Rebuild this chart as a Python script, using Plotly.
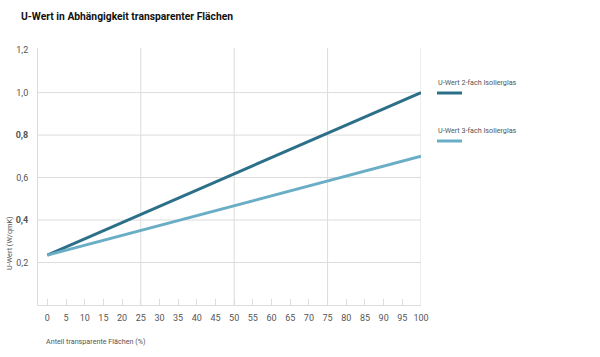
import plotly.graph_objects as go

x_vals = [0, 100]
series_names = ["U-Wert 2-fach Isolierglas", "U-Wert 3-fach Isolierglas"]
u_2fach = [0.235, 1.0]
u_3fach = [0.235, 0.70]
x_ticks = list(range(0, 101, 5))
y_ticks = [0.2, 0.4, 0.6, 0.8, 1.0, 1.2]
y_ticktext = ["0,2", "<b>0,4</b>", "0,6", "<b>0,8</b>", "1,0", "1,2"]
y_grid = [0.2, 0.4, 0.6, 0.8, 1.0]
x_grid = [25, 50, 75, 100]

colors = ["#2c6f88", "#6aaec6"]
FONT = "Roboto, Arial, sans-serif"

W, H = 600, 357
# plot area in window pixels: x 38..421, y 48..305
L, R, T, B = 38, 421, 48, 305
def px(xp):
    return (xp - L) / (R - L)
def py(yp):
    return (B - yp) / (B - T)

fig = go.Figure()
for name, vals, c in zip(series_names, [u_2fach, u_3fach], colors):
    fig.add_trace(go.Scatter(x=x_vals, y=vals, mode="lines", name=name,
                             line=dict(color=c, width=3), showlegend=False))

grid_color = "#dcdcdc"
shapes = []
for yv in y_grid:
    shapes.append(dict(type="line", xref="x domain", yref="y", x0=0, x1=1, y0=yv, y1=yv,
                       line=dict(color=grid_color, width=1), layer="below"))
for xv in x_grid:
    shapes.append(dict(type="line", xref="x", yref="y domain", x0=xv, x1=xv, y0=0, y1=1,
                       line=dict(color=grid_color, width=1), layer="below"))

annotations = [
    dict(text="<b>U-Wert in Abhängigkeit transparenter Flächen</b>", xref="paper", yref="paper",
         x=px(19), y=py(16), xanchor="left", yanchor="middle", showarrow=False,
         font=dict(family=FONT, size=10.3, color="#111")),
    dict(text="U-Wert (W/qmK)", xref="paper", yref="paper", x=px(9), y=py(243), textangle=-90,
         xanchor="center", yanchor="middle", showarrow=False,
         font=dict(family=FONT, size=7.3, color="#555")),
    dict(text="Anteil transparente Flächen (%)", xref="paper", yref="paper", x=px(44), y=py(341),
         xanchor="left", yanchor="middle", showarrow=False,
         font=dict(family=FONT, size=7.2, color="#555")),
]
leg_text_y = [82, 130]
for name, c, ly in zip(series_names, colors, leg_text_y):
    annotations.append(dict(text=name, xref="paper", yref="paper", x=px(436), y=py(ly),
                            xanchor="left", yanchor="middle", showarrow=False,
                            font=dict(family=FONT, size=7.2, color="#555")))
    shapes.append(dict(type="line", xref="paper", yref="paper", x0=px(437), x1=px(462),
                       y0=py(ly + 11), y1=py(ly + 11), line=dict(color=c, width=3)))

fig.update_layout(
    width=W, height=H,
    margin=dict(l=L, r=W - R, t=T, b=H - B, autoexpand=False),
    paper_bgcolor="white", plot_bgcolor="white",
    font=dict(family=FONT, size=9, color="#555"),
    shapes=shapes, annotations=annotations,
    xaxis=dict(range=[-2.5, 100], tickvals=x_ticks, showgrid=False, zeroline=False,
               showline=True, linecolor=grid_color, linewidth=1, automargin=False,
               ticks="inside", ticklen=6, tickcolor=grid_color, ticklabelstandoff=4,
               tickfont=dict(family=FONT, size=9, color="#555")),
    yaxis=dict(range=[0, 1.21], tickvals=y_ticks, ticktext=y_ticktext, showgrid=False,
               zeroline=False, showline=True, linecolor=grid_color, linewidth=1,
               ticks="", ticklabelstandoff=7, automargin=False,
               tickfont=dict(family=FONT, size=9, color="#555")),
)
fig.write_html("out.html", config={"displayModeBar": False},
               post_script="document.body.style.margin='0';document.body.style.overflow='hidden';")
